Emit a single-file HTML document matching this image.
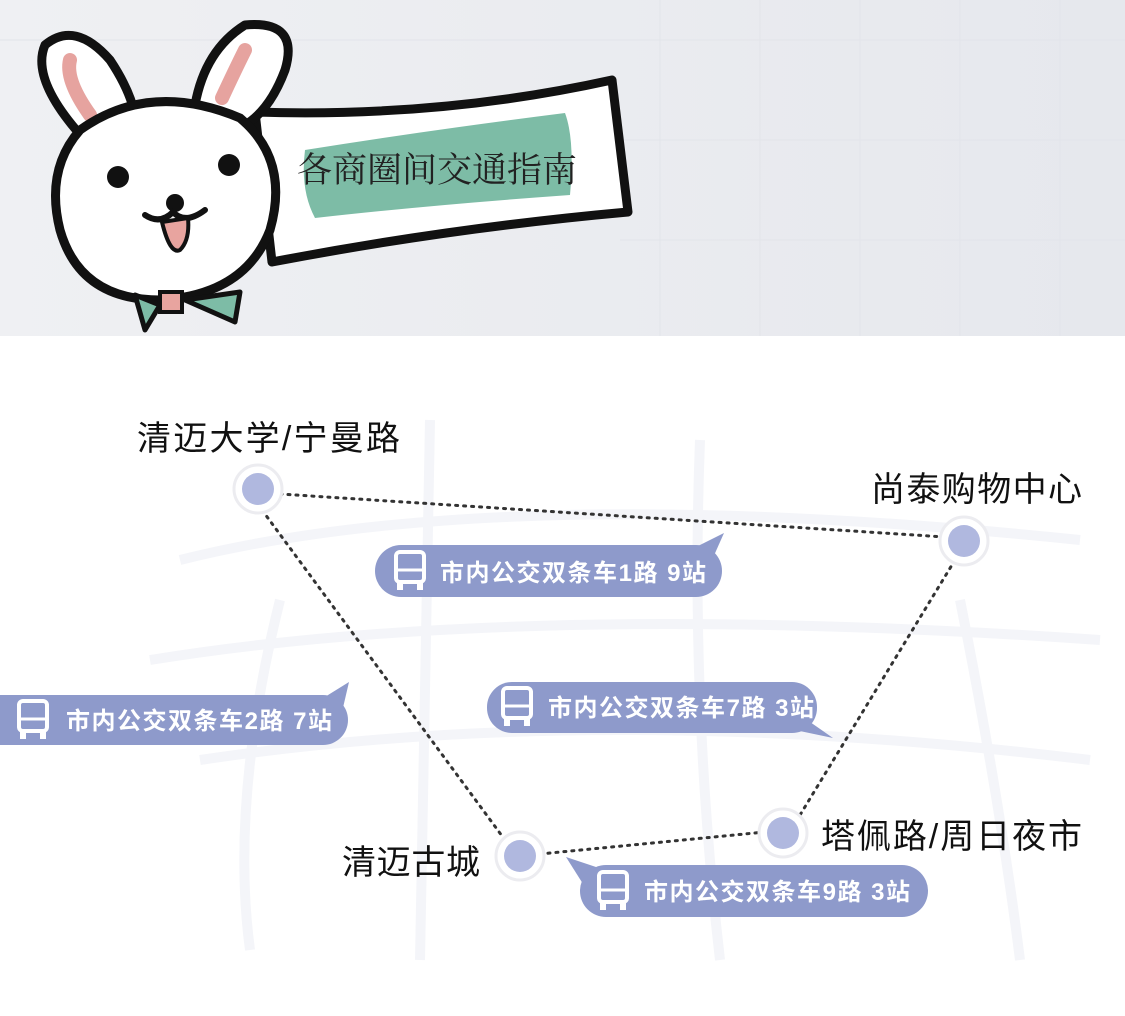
<!DOCTYPE html>
<html><head><meta charset="utf-8"><style>
html,body{margin:0;padding:0;}
body{width:1125px;height:1011px;overflow:hidden;background:#fff;font-family:"Liberation Sans","Noto Sans CJK SC",sans-serif;}
</style></head><body>
<svg width="1125" height="1011" viewBox="0 0 1125 1011" xmlns="http://www.w3.org/2000/svg">
<defs>
<linearGradient id="hd" x1="0" y1="0" x2="1" y2="0"><stop offset="0" stop-color="#eff0f3"/><stop offset="1" stop-color="#e6e8ed"/></linearGradient>
<g id="bus">
<rect x="0" y="0" width="28" height="30" rx="4" fill="none" stroke="#fff" stroke-width="4"/>
<line x1="0" y1="18" x2="28" y2="18" stroke="#fff" stroke-width="3"/>
<rect x="1" y="30" width="6" height="8" fill="#fff"/><rect x="21" y="30" width="6" height="8" fill="#fff"/>
</g>
</defs>
<rect x="0" y="0" width="1125" height="336" fill="url(#hd)"/>
<g stroke="#e2e4ea" stroke-width="1">
<line x1="660" y1="0" x2="660" y2="336"/><line x1="760" y1="0" x2="760" y2="336"/><line x1="860" y1="0" x2="860" y2="336"/><line x1="960" y1="0" x2="960" y2="336"/><line x1="1060" y1="0" x2="1060" y2="336"/>
<line x1="0" y1="40" x2="1125" y2="40"/><line x1="620" y1="140" x2="1125" y2="140"/><line x1="620" y1="240" x2="1125" y2="240"/>
</g>
<g stroke="#f4f5f9" stroke-width="10" fill="none">
<path d="M180 560 Q500 480 1080 540"/><path d="M150 660 Q520 600 1100 640"/><path d="M200 760 Q600 700 1090 760"/>
<path d="M430 420 L420 960"/><path d="M700 440 Q690 700 720 960"/><path d="M960 600 Q1000 800 1020 960"/><path d="M280 600 Q230 800 250 950"/>
</g>
<path d="M255 112 Q440 118 612 80 L628 212 Q450 228 272 262 Z" fill="#fff" stroke="#111" stroke-width="9" stroke-linejoin="round"/>
<path d="M305 150 Q430 130 565 113 Q575 140 570 195 Q430 205 315 218 Q300 190 305 150 Z" fill="#7dbca6"/>
<text x="297" y="182" font-family="'Liberation Serif','Noto Serif CJK SC',serif" font-size="35" fill="#222">各商圈间交通指南</text>
<path d="M85 140 Q30 80 45 45 Q75 20 110 60 Q130 90 135 115" fill="#fff" stroke="#111" stroke-width="9" stroke-linejoin="round"/>
<path d="M70 60 Q65 80 90 115" stroke="#e6a39f" stroke-width="14" stroke-linecap="round" fill="none"/>
<path d="M195 105 Q205 50 245 25 Q300 20 285 70 Q270 110 245 125" fill="#fff" stroke="#111" stroke-width="9" stroke-linejoin="round"/>
<path d="M245 50 Q235 70 222 98" stroke="#e6a39f" stroke-width="14" stroke-linecap="round" fill="none"/>
<path d="M80 130 Q150 80 240 118 Q290 160 270 230 Q245 295 160 300 Q80 300 60 230 Q45 170 80 130 Z" fill="#fff" stroke="#111" stroke-width="9"/>
<circle cx="118" cy="177" r="11" fill="#111"/><circle cx="229" cy="165" r="11" fill="#111"/>
<circle cx="175" cy="203" r="9" fill="#111"/>
<path d="M145 215 Q160 225 173 212 Q185 225 205 210" stroke="#111" stroke-width="6" fill="none" stroke-linecap="round"/>
<path d="M162 222 Q170 255 180 250 Q190 240 188 218 Z" fill="#e8a49f" stroke="#111" stroke-width="4"/>
<path d="M135 295 L160 305 L145 330 Z" fill="#7dbca6" stroke="#111" stroke-width="5" stroke-linejoin="round"/>
<path d="M185 300 L240 292 L235 322 Z" fill="#7dbca6" stroke="#111" stroke-width="5" stroke-linejoin="round"/>
<rect x="160" y="292" width="22" height="20" fill="#e8a49f" stroke="#111" stroke-width="4"/>
<g stroke="#333" stroke-width="3" stroke-dasharray="2 6" stroke-linecap="round" fill="none">
<line x1="280" y1="494" x2="945" y2="537"/>
<line x1="262" y1="510" x2="505" y2="840"/>
<line x1="955" y1="560" x2="800" y2="815"/>
<line x1="540" y1="854" x2="765" y2="832"/>
</g>
<g>
<circle cx="258" cy="489" r="24" fill="#fff" stroke="#ececf0" stroke-width="3"/><circle cx="258" cy="489" r="16" fill="#b0b8df"/>
<circle cx="964" cy="541" r="24" fill="#fff" stroke="#ececf0" stroke-width="3"/><circle cx="964" cy="541" r="16" fill="#b0b8df"/>
<circle cx="520" cy="856" r="24" fill="#fff" stroke="#ececf0" stroke-width="3"/><circle cx="520" cy="856" r="16" fill="#b0b8df"/>
<circle cx="783" cy="833" r="24" fill="#fff" stroke="#ececf0" stroke-width="3"/><circle cx="783" cy="833" r="16" fill="#b0b8df"/>
</g>
<g font-size="34" fill="#111" font-family="'Liberation Sans','Noto Sans CJK SC',sans-serif">
<text x="137" y="450" textLength="263">清迈大学/宁曼路</text>
<text x="871" y="501" textLength="211">尚泰购物中心</text>
<text x="342" y="874" textLength="138">清迈古城</text>
<text x="821" y="848" textLength="261">塔佩路/周日夜市</text>
</g>
<g fill="#8e9acb">
<rect x="375" y="545" width="347" height="52" rx="26"/><path d="M690 550 L724 533 L712 560 Z"/>
<rect x="-30" y="695" width="378" height="50" rx="25"/><path d="M320 700 L349 682 L342 712 Z"/>
<rect x="487" y="682" width="330" height="51" rx="25"/><path d="M800 715 L833 738 L795 730 Z"/>
<rect x="580" y="865" width="348" height="52" rx="26"/><path d="M605 870 L566 857 L590 895 Z"/>
</g>
<g font-size="24" fill="#fff" font-weight="bold" font-family="'Liberation Sans','Noto Sans CJK SC',sans-serif">
<use href="#bus" x="396" y="552"/><text x="440" y="581" textLength="266">市内公交双条车1路 9站</text>
<use href="#bus" x="19" y="701"/><text x="66" y="729" textLength="266">市内公交双条车2路 7站</text>
<use href="#bus" x="503" y="688"/><text x="548" y="716" textLength="266">市内公交双条车7路 3站</text>
<use href="#bus" x="599" y="872"/><text x="644" y="900" textLength="266">市内公交双条车9路 3站</text>
</g>
</svg>
</body></html>
